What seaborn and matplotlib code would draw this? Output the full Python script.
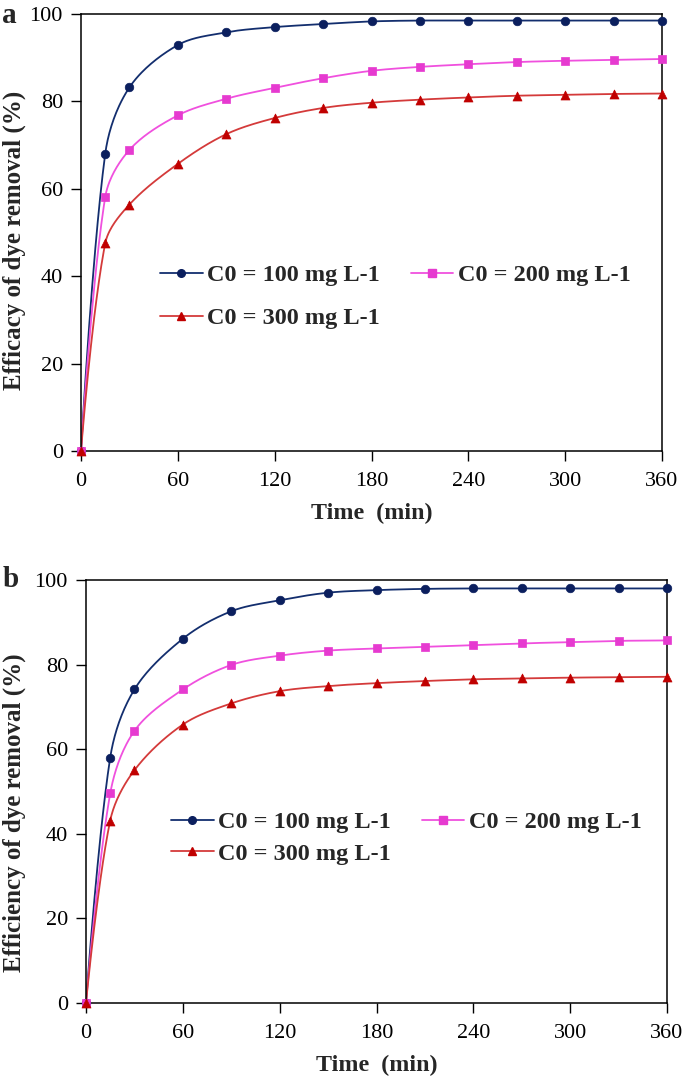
import numpy as np
import pandas as pd
import matplotlib
matplotlib.use("Agg")
import matplotlib.pyplot as plt
from matplotlib.lines import Line2D
import seaborn as sns

sns.set_style("ticks")
plt.rcParams['font.family'] = ['Liberation Serif', 'DejaVu Serif']

time_min = [0, 15, 30, 60, 90, 120, 150, 180, 210, 240, 270, 300, 330, 360]
series_labels = ["C0 = 100 mg L-1", "C0 = 200 mg L-1", "C0 = 300 mg L-1"]

# Panel a: efficacy of dye removal (%)
a_c100 = [0, 68.0, 83.2, 92.9, 95.8, 97.0, 97.7, 98.3, 98.5, 98.5, 98.5, 98.5, 98.5, 98.5]
a_c200 = [0, 58.1, 68.9, 76.8, 80.6, 83.1, 85.3, 87.0, 87.9, 88.5, 89.0, 89.3, 89.5, 89.7]
a_c300 = [0, 47.5, 56.4, 65.7, 72.5, 76.2, 78.5, 79.7, 80.4, 80.9, 81.3, 81.5, 81.7, 81.8]

# Panel b: efficiency of dye removal (%)
b_c100 = [0, 58.0, 74.1, 86.1, 92.6, 95.2, 97.0, 97.6, 97.9, 98.0, 98.0, 98.0, 98.0, 98.0]
b_c200 = [0, 49.5, 64.3, 74.1, 79.9, 82.1, 83.3, 83.8, 84.2, 84.6, 85.0, 85.3, 85.6, 85.7]
b_c300 = [0, 43.1, 55.0, 65.8, 70.8, 73.7, 74.9, 75.6, 76.1, 76.5, 76.7, 76.9, 77.0, 77.1]

x_ticks = [0, 60, 120, 180, 240, 300, 360]
y_ticks = [0, 20, 40, 60, 80, 100]

marker_colors = ["#0b1f5e", "#e63ad0", "#c00000"]
line_colors = ["#132e6e", "#f050de", "#d43a3a"]
markers = ["o", "s", "^"]


def smooth_path(x, y, xr=360.0, yr=100.0, sx=581.0, sy=430.0, n=30):
    """Smoothed (chord-length aware Bezier) line through the data points, Excel style."""
    px = np.asarray(x, float) / xr * sx
    py = np.asarray(y, float) / yr * sy
    P = np.column_stack([px, py])
    m = len(P)
    out = []
    t = np.linspace(0, 1, n, endpoint=False)[:, None]
    for i in range(m - 1):
        p1, p2 = P[i], P[i + 1]
        p0 = P[i - 1] if i > 0 else p1
        p3 = P[i + 2] if i + 2 < m else p2
        d01 = np.linalg.norm(p1 - p0)
        d12 = np.linalg.norm(p2 - p1)
        d23 = np.linalg.norm(p3 - p2)
        f1 = d12 / (d01 + d12) / 3.0 if d01 > 0 else 0.0
        f2 = d12 / (d12 + d23) / 3.0 if d23 > 0 else 0.0
        c1 = p1 + (p2 - p0) * f1
        c2 = p2 - (p3 - p1) * f2
        seg = ((1 - t) ** 3) * p1 + 3 * ((1 - t) ** 2) * t * c1 + 3 * (1 - t) * t ** 2 * c2 + t ** 3 * p2
        out.append(seg)
    out.append(P[-1][None, :])
    out = np.vstack(out)
    return out[:, 0] / sx * xr, out[:, 1] / sy * yr


fig = plt.figure(figsize=(6.85, 10.81), dpi=100)
ax1 = fig.add_axes([81 / 685, 1 - 451 / 1081, (662 - 81) / 685, (451 - 14) / 1081])
ax2 = fig.add_axes([86 / 685, 1 - 1002.7 / 1081, (667 - 86) / 685, (1002.7 - 580) / 1081])

panels = [
    (ax1, [a_c100, a_c200, a_c300], "Efficacy of dye removal (%)",
     (160 / 685, 1 - 264 / 1081), 0.88, (-0.095, 0.483)),
    (ax2, [b_c100, b_c200, b_c300], "Efficiency of dye removal (%)",
     (171 / 685, 1 - 811 / 1081), 0.4, (-0.103, 0.449)),
]

for ax, series, ylabel, leg_anchor, lspace, ylab_xy in panels:
    for vals, lab, mc, lc, mk in zip(series, series_labels, marker_colors, line_colors, markers):
        sxs, sys_ = smooth_path(time_min, vals)
        sns.lineplot(x=sxs, y=sys_, ax=ax, color=lc, lw=1.3, sort=False,
                     estimator=None, legend=False)
        sns.scatterplot(x=time_min, y=vals, ax=ax, color=mc, marker=mk,
                        s=38 if mk != "^" else 42, edgecolor=mc, linewidth=0.5,
                        legend=False, zorder=3, clip_on=False)
    ax.set_xlim(0, 360)
    ax.set_ylim(0, 100)
    ax.set_xticks(x_ticks)
    ax.set_yticks(y_ticks)
    ax.tick_params(direction="out", length=7, width=1, labelsize=16, colors="black")
    ax.tick_params(axis="x", pad=8)
    ax.tick_params(axis="y", pad=6)
    for sp in ax.spines.values():
        sp.set_visible(True)
        sp.set_color("black")
        sp.set_linewidth(1.1)
    ax.set_xlabel("Time  (min)", fontsize=17.3, fontweight="bold", labelpad=9)
    ax.set_ylabel(ylabel, fontsize=18, fontweight="bold", labelpad=3)
    ax.yaxis.set_label_coords(*ylab_xy)

    handles = [Line2D([0], [0], color=lc, marker=mk, markerfacecolor=mc,
                      markeredgecolor=mc, markersize=5.5, lw=1.3)
               for lc, mc, mk in zip(line_colors, marker_colors, markers)]
    order = [0, 2, 1]
    ax.legend([handles[i] for i in order], [series_labels[i] for i in order],
              ncol=2, frameon=False, loc="upper left",
              bbox_to_anchor=leg_anchor, bbox_transform=fig.transFigure,
              prop={"weight": "bold", "size": 17.5}, handlelength=1.75,
              handletextpad=0.2, columnspacing=1.25, labelspacing=lspace,
              borderaxespad=0, borderpad=0)

fig.text(2 / 685, 1 - 2 / 1081, "a", fontsize=21, fontweight="bold", va="top", ha="left")
fig.text(3 / 685, 1 - 566 / 1081, "b", fontsize=21, fontweight="bold", va="top", ha="left")

fig.savefig("out.png", dpi=100)
